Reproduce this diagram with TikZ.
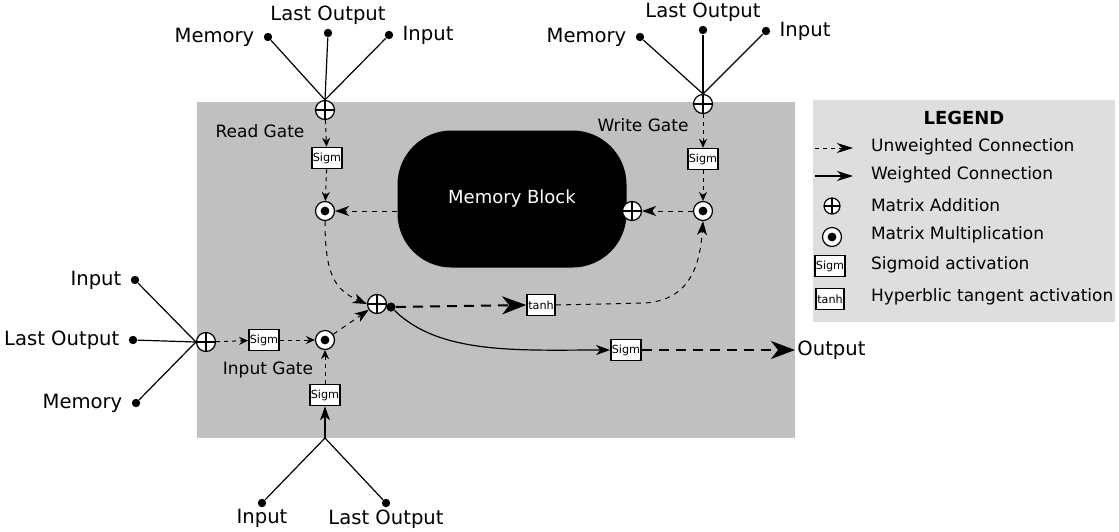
\documentclass[tikz,border=0pt]{standalone}
\usepackage{fontspec}
\setmainfont{DejaVu Sans}
\usetikzlibrary{arrows.meta,calc}
\definecolor{lstmCell}{HTML}{C0C0C0}
\definecolor{lstmLegend}{HTML}{DEDEDE}

\begin{document}
\begin{tikzpicture}[x=0.5pt,y=-0.5pt,
    lbl/.style={font=\fontsize{9.8}{11}\selectfont},
    gatelbl/.style={font=\fontsize{8.5}{10}\selectfont},
    leglbl/.style={font=\fontsize{8.5}{10}\selectfont,anchor=west},
    addop/.style={circle,draw,line width=0.6pt,fill=white,minimum size=9.5pt,inner sep=0pt,
       path picture={\draw[black,line width=0.6pt]
          (path picture bounding box.north) -- (path picture bounding box.south)
          (path picture bounding box.west) -- (path picture bounding box.east);}},
    mulop/.style={circle,draw,line width=0.6pt,fill=white,minimum size=9.5pt,inner sep=0pt,
       path picture={\fill[black] (path picture bounding box.center) circle (2.2pt);}},
    actbox/.style={draw,line width=0.8pt,fill=white,font=\fontsize{5.6}{6}\selectfont,
       minimum width=14pt,minimum height=10.5pt,inner sep=0.5pt},
    src/.style={circle,fill=black,minimum size=4.2pt,inner sep=0pt},
    wire/.style={line width=0.6pt},
    unw/.style={dash pattern=on 2pt off 2pt,line width=0.5pt,
       -{Stealth[length=4.5pt,width=4pt,inset=1.5pt]}},
    midunw/.style={dash pattern=on 2.5pt off 2.5pt,line width=0.5pt,
       -{Stealth[length=7pt,width=5pt,inset=2pt]}},
    wtd/.style={line width=0.6pt,-{Stealth[length=7pt,width=5pt,inset=2pt]}},
    bigunw/.style={dash pattern=on 5pt off 3.5pt,line width=1pt,
       -{Stealth[length=12pt,width=9pt,inset=3.5pt]}}]

  \useasboundingbox (0,0) rectangle (1119,531);

  % cell and legend backgrounds
  \fill[lstmCell] (197,102) rectangle (795,438);
  \node[fill=lstmLegend,minimum width=151pt,minimum height=111pt,inner sep=0pt,
        anchor=north west] (legBox) at (813,100) {};

  % memory block
  \node[fill=black,text=white,rounded corners=27pt,minimum width=114.5pt,
        minimum height=68.5pt,font=\fontsize{9}{11}\selectfont] (memBlk) at (512,199) {Memory Block};
  \node[addop] (memAdd) at (632,211) {};

  % read gate
  \node[addop] (rgAdd) at (325,110) {};
  \node[src,label={[lbl,label distance=1pt]left:Memory}] (rgMem) at (268,37) {};
  \node[src,label={[lbl,label distance=-1.5pt]above:Last Output}] (rgLast) at (328,33) {};
  \node[src,label={[lbl,label distance=1pt]right:Input}] (rgIn) at (389,35) {};
  \node[actbox] (rgSig) at (327,158) {Sigm};
  \node[mulop] (rgMul) at (325,211) {};
  \node[gatelbl] (rgLbl) at (260,131) {Read Gate};

  % write gate
  \node[addop] (wgAdd) at (703,104) {};
  \node[src,label={[lbl,label distance=1pt]left:Memory}] (wgMem) at (640,37) {};
  \node[src,label={[lbl,label distance=-1.5pt]above:Last Output}] (wgLast) at (703,30) {};
  \node[src,label={[lbl,label distance=1pt]right:Input}] (wgIn) at (766,31) {};
  \node[actbox] (wgSig) at (703,159) {Sigm};
  \node[mulop] (wgMul) at (703,211) {};
  \node[gatelbl] (wgLbl) at (643,125) {Write Gate};

  % input gate
  \node[addop] (igAdd) at (206,342) {};
  \node[src,label={[lbl,label distance=1pt]left:Input}] (igIn) at (135,280) {};
  \node[src,label={[lbl,label distance=1pt]left:Last Output}] (igLast) at (133,340) {};
  \node[src,label={[lbl,label distance=1pt]left:Memory}] (igMem) at (136,403) {};
  \node[actbox] (igSig) at (264,340) {Sigm};
  \node[mulop] (igMul) at (325,340) {};
  \node[gatelbl] (igLbl) at (268,370) {Input Gate};

  % cell input
  \node[actbox] (isSig) at (325,395) {Sigm};
  \coordinate (isJoin) at (325,438);
  \node[src,label={[lbl,label distance=-2.5pt]below:Input}] (isIn) at (262,503) {};
  \node[src,label={[lbl,label distance=-2.5pt]below:Last Output}] (isLast) at (386,503) {};

  % sum and output
  \node[addop] (sumAdd) at (377,304) {};
  \node[src,minimum size=4.6pt] (sumDot) at (391,307) {};
  \node[actbox] (tanhBox) at (541,305) {tanh};
  \node[actbox] (outSig) at (626,350) {Sigm};
  \node[lbl,anchor=west,inner sep=1pt] (outLbl) at (795,350) {Output};

  % gate inputs
  \foreach \s in {rgMem,rgLast,rgIn} \draw[wire] (\s) -- (rgAdd.north);
  \foreach \s in {wgMem,wgLast,wgIn} \draw[wire] (\s) -- (wgAdd.north);
  \foreach \s in {igIn,igLast,igMem} \draw[wire] (\s) -- (igAdd.west);
  \foreach \s in {isIn,isLast} \draw[wire] (\s) -- (isJoin);
  \draw[wtd] (isJoin) -- (isSig.south);

  % unweighted connections
  \draw[unw] (rgAdd) -- (rgSig);
  \draw[unw] (rgSig) -- (rgMul);
  \draw[midunw] (memBlk.west |- rgMul) -- (rgMul.east);
  \draw[unw] (wgAdd) -- (wgSig);
  \draw[unw] (wgSig) -- (wgMul);
  \draw[midunw] (wgMul.west) -- (memAdd.east);
  \draw[unw] (igAdd) -- (igSig);
  \draw[unw] (igSig) -- (igMul);
  \draw[unw] (isSig.north) -- (igMul.south);
  \draw[midunw] (rgMul.south) .. controls (325,275) and (335,290) .. (sumAdd.west);
  \draw[midunw] (igMul) -- (sumAdd);
  \draw[bigunw] (sumDot) -- (tanhBox.west);
  \draw[midunw] (tanhBox.east) -- (645,303) .. controls (690,300) and (700,265) .. (wgMul.south);
  \draw[wtd] (sumDot) .. controls (440,355) and (520,350) .. (outSig.west);
  \draw[bigunw] (outSig.east) -- (outLbl.west);

  % legend
  \node[font=\fontsize{9}{11}\selectfont\bfseries] (legTitle) at (964,118) {LEGEND};
  \coordinate (legUa) at (815,148); \coordinate (legUb) at (853,148);
  \coordinate (legWa) at (815,176); \coordinate (legWb) at (853,176);
  \draw[dash pattern=on 2pt off 2pt,line width=0.5pt,
        -{Stealth[length=8pt,width=5pt,inset=2.5pt]}] (legUa) -- (legUb);
  \draw[line width=0.6pt,-{Stealth[length=8pt,width=5pt,inset=2.5pt]}] (legWa) -- (legWb);
  \node[addop,minimum size=8pt] (legAdd) at (832,206) {};
  \node[mulop] (legMul) at (832,237) {};
  \node[actbox] (legSig) at (830,266) {Sigm};
  \node[actbox] (legTanh) at (830,299) {tanh};
  \node[leglbl] (legT1) at (864,147) {Unweighted Connection};
  \node[leglbl] (legT2) at (864,175) {Weighted Connection};
  \node[leglbl] (legT3) at (864,205) {Matrix Addition};
  \node[leglbl] (legT4) at (864,235) {Matrix Multiplication};
  \node[leglbl] (legT5) at (864,265) {Sigmoid activation};
  \node[leglbl] (legT6) at (864,297) {Hyperblic tangent activation};
\end{tikzpicture}
\end{document}
